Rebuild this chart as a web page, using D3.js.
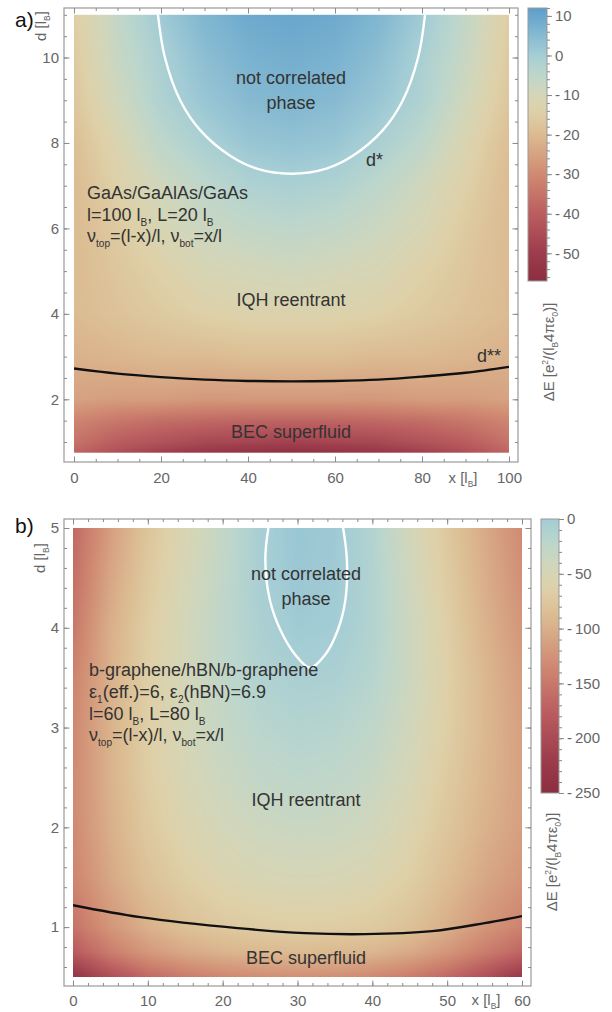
<!DOCTYPE html>
<html>
<head>
<meta charset="utf-8">
<script src="https://d3js.org/d3.v7.min.js"></script>
<style>
  body { margin: 0; background: #fff; }
  svg { display: block; font-family: 'Liberation Sans', Arial, sans-serif; }
  .tick text, .ctick { fill: #666; font-size: 15px; font-family: 'Liberation Sans', Arial, sans-serif; }
  .tick line { stroke: #8a8a8a; }
  .lbl { fill: #333; font-size: 18px; }
  .axlbl { fill: #666; font-size: 15px; }
</style>
</head>
<body>
<svg width="612" height="1012"></svg>
<script>
// ---- data ----
// panel a: GaAs/GaAlAs/GaAs, dE in e^2/(l_B 4 pi eps0)
var xGridA = [0, 10, 20, 30, 40, 50, 60, 70, 80, 90, 100];
var dGridA = [0.75, 1, 1.5, 2, 3, 4, 5, 6, 7, 8, 9, 10, 11];
var dEA = [
    [-38, -44, -49, -52, -54, -55, -54, -52, -49, -44, -38],
    [-35, -40, -43, -46, -47, -48, -47, -46, -43, -40, -35],
    [-31, -34, -36, -37, -38, -38, -38, -37, -36, -34, -31],
    [-25, -26, -26, -27, -27, -27, -27, -27, -26, -26, -25],
    [-22, -21, -20, -20, -19, -19, -19, -20, -20, -21, -22],
    [-20, -18, -16, -14, -13, -13, -13, -14, -16, -18, -20],
    [-20, -17, -14, -11, -10, -9, -10, -11, -14, -17, -20],
    [-20, -16, -11, -8, -6, -5, -6, -8, -11, -16, -20],
    [-20, -14, -9, -5, -2, -1, -2, -5, -9, -14, -20],
    [-19, -12, -5, -1, 2, 3, 2, -1, -5, -12, -19],
    [-17, -9, -2, 2, 5, 6, 5, 2, -2, -9, -17],
    [-16, -7, -1, 4, 7, 8, 7, 4, -1, -7, -16],
    [-15, -6, 1, 6, 9, 10, 9, 6, 1, -6, -15]
];
// d* (white) and d** (black) lines, [x, d]
var dStarA = [[19.3, 11], [20.9, 10], [24.4, 9], [29, 8.3], [35.9, 7.7], [42, 7.4], [50, 7.28],
    [58, 7.4], [64.1, 7.7], [71, 8.3], [75.6, 9], [79.1, 10], [80.7, 11]];
var dStar2A = [[0, 2.72], [10, 2.6], [20, 2.52], [30, 2.46], [40, 2.43], [50, 2.42], [60, 2.43],
    [70, 2.46], [80, 2.53], [90, 2.62], [100, 2.76]];

// panel b: b-graphene/hBN/b-graphene
var xGridB = [0, 5, 10, 15, 20, 25, 30, 35, 40, 45, 50, 55, 60];
var dGridB = [0.5, 0.75, 1, 1.5, 2, 2.5, 3, 3.5, 4, 4.5, 5];
var dEB = [
    [-235, -195, -165, -147, -136, -130, -128, -129, -134, -146, -165, -192, -228],
    [-180, -145, -120, -105, -96, -91, -89, -90, -94, -104, -122, -145, -168],
    [-155, -122, -98, -83, -74, -69, -67, -68, -72, -82, -100, -122, -140],
    [-138, -106, -82, -66, -56, -50, -48, -49, -54, -66, -86, -106, -122],
    [-133, -100, -73, -56, -45, -38, -35, -36, -42, -56, -77, -97, -114],
    [-133, -97, -68, -50, -37, -28, -24, -26, -33, -48, -71, -93, -112],
    [-135, -97, -66, -46, -31, -20, -15, -17, -25, -42, -66, -91, -113],
    [-140, -98, -66, -45, -27, -13, -6, -8, -17, -38, -64, -92, -116],
    [-150, -100, -68, -45, -25, -8, 2, 0, -13, -38, -66, -96, -122],
    [-158, -108, -73, -48, -27, -5, 5, 2, -13, -40, -70, -100, -128],
    [-165, -115, -78, -52, -30, -4, 6, 3, -14, -43, -74, -104, -133]
];
var dStarB = [[26.1, 5], [25.7, 4.68], [26.3, 4.28], [27.7, 3.98], [29.7, 3.73], [31.7, 3.6],
    [33.7, 3.73], [35.4, 3.98], [36.4, 4.28], [36.6, 4.68], [36.1, 5]];
var dStar2B = [[0, 1.22], [9, 1.1], [22, 0.99], [31, 0.94], [39, 0.93], [48, 0.96], [55, 1.04], [60, 1.11]];

// tick labels
var xTicksA = [0, 20, 40, 60, 80, 100];
var yTicksA = [2, 4, 6, 8, 10];
var cTicksA = [-50, -40, -30, -20, -10, 0, 10];
var xTicksB = [0, 10, 20, 30, 40, 50, 60];
var yTicksB = [1, 2, 3, 4, 5];
var cTicksB = [-250, -200, -150, -100, -50, 0];

// colour ramp (RedBlueTones-like)
var tStops = [0, 0.10, 0.25, 0.39, 0.54, 0.62, 0.68, 0.76, 0.83, 0.92, 1];
var colStops = ['#8c2e40', '#9c3c4c', '#bb5e60', '#d08a72', '#dcbc92', '#ded0a8', '#d4d6b8',
    '#bcd6cc', '#a4cdd5', '#7db4d0', '#5c9ecb'];

var ramp = d3.scaleLinear().domain(tStops).range(colStops).clamp(true);
var lut = d3.range(1001).map(function(i) { return d3.rgb(ramp(i / 1000)); });

var svg = d3.select('svg');

// writes "l_{B}" / "e^{2}" style strings into tspans
function rich(sel, str, size) {
    var re = /([_^])\{([^}]*)\}/g, last = 0, m, parts = [];
    while ((m = re.exec(str))) {
        if (m.index > last) parts.push([str.slice(last, m.index), 0]);
        parts.push([m[2], m[1] == '_' ? 1 : -1]);
        last = re.lastIndex;
    }
    if (last < str.length) parts.push([str.slice(last), 0]);
    var cur = 0;
    parts.forEach(function(p) {
        var s = p[1] == 1 ? size * 0.25 : p[1] == -1 ? -size * 0.38 : 0;
        sel.append('tspan')
            .attr('dy', s - cur)
            .style('font-size', p[1] ? (size * 0.56) + 'px' : null)
            .text(p[0]);
        cur = s;
    });
    return sel;
}

function drawField(p) {
    var x0 = p.x.range()[0], x1 = p.x.range()[1], y0 = p.y.range()[1], y1 = p.y.range()[0];
    var w = Math.round(x1 - x0), h = Math.round(y1 - y0);
    var cv = document.createElement('canvas');
    cv.width = w;
    cv.height = h;
    var ctx = cv.getContext('2d');
    var img = ctx.createImageData(w, h);
    var nx = p.xGrid.length, ny = p.dGrid.length;
    var ix = d3.scaleLinear().domain(p.xGrid).range(d3.range(nx)).clamp(true);
    var iy = d3.scaleLinear().domain(p.dGrid).range(d3.range(ny)).clamp(true);
    for (var j = 0; j < h; j++) {
        var fy = iy(p.y.invert(y0 + (j + 0.5) * (y1 - y0) / h));
        var j0 = Math.min(Math.floor(fy), ny - 2), ty = fy - j0;
        for (var i = 0; i < w; i++) {
            var fx = ix(p.x.invert(x0 + (i + 0.5) * (x1 - x0) / w));
            var i0 = Math.min(Math.floor(fx), nx - 2), tx = fx - i0;
            var v = (1 - tx) * (1 - ty) * p.vals[j0][i0] + tx * (1 - ty) * p.vals[j0][i0 + 1] +
                (1 - tx) * ty * p.vals[j0 + 1][i0] + tx * ty * p.vals[j0 + 1][i0 + 1];
            var c = lut[Math.round(p.t(v) * 1000)];
            var k = (j * w + i) * 4;
            img.data[k] = c.r;
            img.data[k + 1] = c.g;
            img.data[k + 2] = c.b;
            img.data[k + 3] = 255;
        }
    }
    ctx.putImageData(img, 0, 0);
    svg.append('image')
        .attr('x', x0).attr('y', y0)
        .attr('width', x1 - x0).attr('height', y1 - y0)
        .attr('preserveAspectRatio', 'none')
        .attr('href', cv.toDataURL());
}

function axis(gen, pos, size, withText, pad) {
    var g = svg.append('g')
        .attr('transform', pos)
        .call(gen.tickSize(size).tickPadding(pad || 4));
    g.select('.domain').remove();
    if (!withText) g.selectAll('.tick text').remove();
    return g;
}

function drawPanel(p) {
    var f = p.frame;
    drawField(p);

    var clipId = 'clip' + p.id;
    svg.append('clipPath').attr('id', clipId)
        .append('rect')
        .attr('x', p.x.range()[0]).attr('y', p.y.range()[1])
        .attr('width', p.x.range()[1] - p.x.range()[0])
        .attr('height', p.y.range()[0] - p.y.range()[1]);

    var line = d3.line()
        .x(function(d) { return p.x(d[0]); })
        .y(function(d) { return p.y(d[1]); })
        .curve(d3.curveCatmullRom.alpha(0.5));

    svg.append('path').datum(p.star)
        .attr('clip-path', 'url(#' + clipId + ')')
        .attr('d', line).attr('fill', 'none')
        .attr('stroke', '#fff').attr('stroke-width', 2.4);
    svg.append('path').datum(p.star2)
        .attr('clip-path', 'url(#' + clipId + ')')
        .attr('d', line).attr('fill', 'none')
        .attr('stroke', '#111').attr('stroke-width', 2.4);

    // frame
    svg.append('rect')
        .attr('x', f[0]).attr('y', f[1])
        .attr('width', f[2] - f[0]).attr('height', f[3] - f[1])
        .attr('fill', 'none').attr('stroke', '#999').attr('stroke-width', 1.2);

    var fmt = d3.format('d');
    // bottom + top
    axis(d3.axisBottom(p.x).tickValues(p.xMinor), 'translate(0,' + f[3] + ')', -3, false);
    axis(d3.axisBottom(p.x).tickValues(p.xTicks).tickFormat(fmt), 'translate(0,' + f[3] + ')', -5.5, true, p.xPad);
    axis(d3.axisTop(p.x).tickValues(p.xMinor), 'translate(0,' + f[1] + ')', -3, false);
    axis(d3.axisTop(p.x).tickValues(p.xTicks), 'translate(0,' + f[1] + ')', -5.5, false);
    // left + right
    axis(d3.axisLeft(p.y).tickValues(p.yMinor), 'translate(' + f[0] + ',0)', -3, false);
    axis(d3.axisLeft(p.y).tickValues(p.yTicks).tickFormat(fmt), 'translate(' + f[0] + ',0)', -5.5, true, 5);
    axis(d3.axisRight(p.y).tickValues(p.yMinor), 'translate(' + f[2] + ',0)', -3, false);
    axis(d3.axisRight(p.y).tickValues(p.yTicks), 'translate(' + f[2] + ',0)', -5.5, false);

    // colour bar
    var cb = p.cbar, gid = 'grad' + p.id;
    var grad = svg.append('defs').append('linearGradient').attr('id', gid)
        .attr('x1', 0).attr('y1', 1).attr('x2', 0).attr('y2', 0);
    var cd = p.c.domain();
    grad.selectAll('stop').data(d3.range(41)).enter().append('stop')
        .attr('offset', function(k) { return k / 40; })
        .attr('stop-color', function(k) {
            var v = cd[1] + (cd[0] - cd[1]) * k / 40;
            return ramp(p.t(v));
        });
    svg.append('rect')
        .attr('x', cb[0]).attr('y', p.c.range()[0])
        .attr('width', cb[1] - cb[0]).attr('height', p.c.range()[1] - p.c.range()[0])
        .attr('fill', 'url(#' + gid + ')')
        .attr('stroke', '#999').attr('stroke-width', 1);
    axis(d3.axisRight(p.c).tickValues(p.cMinor), 'translate(' + cb[1] + ',0)', 3, false);
    axis(d3.axisRight(p.c).tickValues(p.cTicks), 'translate(' + cb[1] + ',0)', 5, false);

    // colour bar labels, minus written out as its own tspan
    var ct = svg.selectAll('text.c' + p.id).data(p.cTicks).enter().append('text')
        .attr('class', 'ctick c' + p.id)
        .attr('x', cb[1] + 8)
        .attr('y', function(d) { return p.c(d); })
        .attr('dy', '0.35em');
    ct.append('tspan').text(function(d) { return d < 0 ? '-' : ''; });
    ct.append('tspan').attr('dx', function(d) { return d < 0 ? 3 : 0; })
        .text(function(d) { return Math.abs(d); });

    svg.append('text').attr('class', 'axlbl')
        .attr('transform', 'translate(' + p.cLabel[0] + ',' + p.cLabel[1] + ') rotate(-90)')
        .attr('text-anchor', 'middle').attr('dy', '0.35em')
        .call(rich, '\u0394E [e^{2}/(l_{B}4\u03c0\u03b5_{0})]', 15);

    // axis labels
    svg.append('text').attr('class', 'axlbl')
        .attr('transform', 'translate(' + p.dLabel[0] + ',' + p.dLabel[1] + ') rotate(-90)')
        .attr('text-anchor', 'middle').attr('dy', '0.35em')
        .call(rich, 'd [l_{B}]', 15);
    svg.append('text').attr('class', 'axlbl')
        .attr('x', p.xLabel[0]).attr('y', p.xLabel[1])
        .attr('text-anchor', 'middle')
        .call(rich, 'x [l_{B}]', 15);

    svg.append('text')
        .attr('x', p.tag[0]).attr('y', p.tag[1])
        .attr('font-size', 21).attr('fill', '#111')
        .text(p.id + ')');

    // annotations
    p.notes.forEach(function(n) {
        svg.append('text').attr('class', 'lbl')
            .attr('x', n[0]).attr('y', n[1])
            .attr('text-anchor', n[3] || 'start')
            .call(rich, n[2], 18);
    });
}

var panelA = {
    id: 'a',
    frame: [64, 8, 518, 462],
    x: d3.scaleLinear().domain([0, 100]).range([74, 509]),
    y: d3.scaleLinear().domain([0.75, 11]).range([452.7, 14.8]),
    xGrid: xGridA, dGrid: dGridA, vals: dEA,
    t: d3.scaleLinear().domain([-57, 12]).range([0, 1]).clamp(true),
    c: d3.scaleLinear().domain([12, -57]).range([8, 281]),
    cbar: [528, 547],
    star: dStarA, star2: dStar2A,
    xTicks: xTicksA, xMinor: d3.range(0, 101, 5),
    yTicks: yTicksA, yMinor: d3.range(1, 11.01, 0.5),
    cTicks: cTicksA, cMinor: d3.range(-56, 12.1, 2),
    xPad: 10,
    cLabel: [554, 352], dLabel: [46, 26], xLabel: [463, 483], tag: [15, 27],
    notes: [
        [291, 84, 'not correlated', 'middle'],
        [291, 109, 'phase', 'middle'],
        [366, 166, 'd*'],
        [87, 199, 'GaAs/GaAlAs/GaAs'],
        [87, 221, 'l=100 l_{B}, L=20 l_{B}'],
        [87, 242, '\u03bd_{top}=(l-x)/l, \u03bd_{bot}=x/l'],
        [291, 306, 'IQH reentrant', 'middle'],
        [477, 362, 'd**'],
        [291, 438, 'BEC superfluid', 'middle']
    ]
};

var panelB = {
    id: 'b',
    frame: [64, 519, 531, 986],
    x: d3.scaleLinear().domain([0, 60]).range([73, 522]),
    y: d3.scaleLinear().domain([0.5, 5]).range([977, 528]),
    xGrid: xGridB, dGrid: dGridB, vals: dEB,
    t: d3.scaleLinear().domain([-250, 50]).range([0, 1]).clamp(true),
    c: d3.scaleLinear().domain([0, -250]).range([519, 793]),
    cbar: [541, 559],
    star: dStarB, star2: dStar2B,
    xTicks: xTicksB, xMinor: d3.range(0, 61, 2),
    yTicks: yTicksB, yMinor: d3.range(0.6, 5.01, 0.2),
    cTicks: cTicksB, cMinor: d3.range(-250, 0.1, 10),
    xPad: 9,
    cLabel: [557, 862], dLabel: [45, 558], xLabel: [486, 1005], tag: [15, 533],
    notes: [
        [306, 580, 'not correlated', 'middle'],
        [306, 605, 'phase', 'middle'],
        [89, 676, 'b-graphene/hBN/b-graphene'],
        [89, 698, '\u03b5_{1}(eff.)=6, \u03b5_{2}(hBN)=6.9'],
        [89, 720, 'l=60 l_{B}, L=80 l_{B}'],
        [89, 741, '\u03bd_{top}=(l-x)/l, \u03bd_{bot}=x/l'],
        [306, 806, 'IQH reentrant', 'middle'],
        [306, 964, 'BEC superfluid', 'middle']
    ]
};

drawPanel(panelA);
drawPanel(panelB);
</script>
</body>
</html>
